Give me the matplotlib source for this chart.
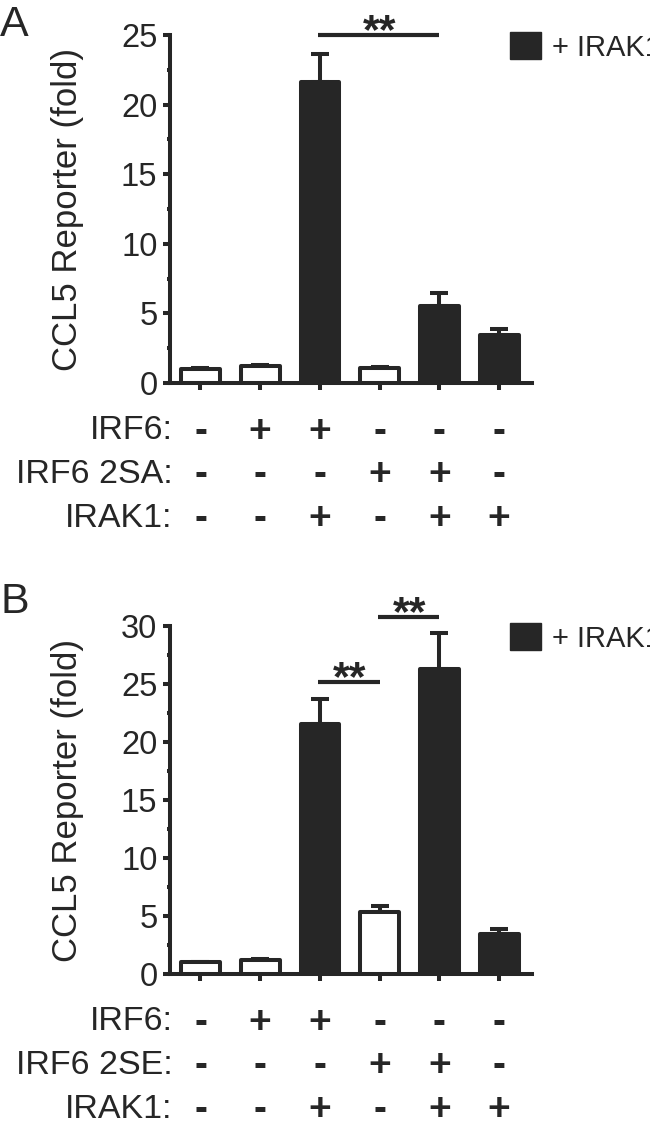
import matplotlib.pyplot as plt
from matplotlib.patches import Patch
from matplotlib.ticker import MultipleLocator
import matplotlib.transforms as mtransforms

plt.rcParams['font.family'] = ['Liberation Sans', 'DejaVu Sans']

DARK = '#262626'

# panel A data
valsA = [1.0, 1.25, 21.65, 1.1, 5.5, 3.45]
errsA = [0.05, 0.05, 2.0, 0.05, 1.0, 0.4]
rowNamesA = ['IRF6:', 'IRF6 2SA:', 'IRAK1:']
irf6 = ['-', '+', '+', '-', '-', '-']
irf6_mut = ['-', '-', '-', '+', '+', '-']
irak1 = ['-', '-', '+', '-', '+', '+']

# panel B data
valsB = [1.0, 1.25, 21.6, 5.35, 26.3, 3.45]
errsB = [0.05, 0.05, 2.1, 0.55, 3.1, 0.43]
rowNamesB = ['IRF6:', 'IRF6 2SE:', 'IRAK1:']

sigA = [(2, 4, 25.0)]
sigB = [(2, 3, 25.2), (3, 4, 30.8)]


def drawPanel(ax, vals, errs, rowNames, ymax, sigs):
    x = list(range(len(vals)))
    faces = [DARK if s == '+' else 'white' for s in irak1]
    bars = ax.bar(x, vals, width=0.65, color=faces, edgecolor=DARK,
                  linewidth=2.9, zorder=3)
    for b in bars:
        b.set_joinstyle('round')
    ax.errorbar(x, vals, yerr=[[0] * len(vals), errs], fmt='none',
                ecolor=DARK, elinewidth=2.9, capsize=6.8, capthick=2.9,
                zorder=2)

    ax.set_xlim(-0.51, 5.55)
    ax.set_ylim(0, ymax)
    ax.set_xticks(x)
    ax.set_xticklabels([])
    ax.yaxis.set_major_locator(MultipleLocator(5))
    ax.yaxis.set_minor_locator(MultipleLocator(2.5))
    for side in ['top', 'right']:
        ax.spines[side].set_visible(False)
    for side in ['left', 'bottom']:
        ax.spines[side].set_linewidth(2.9)
        ax.spines[side].set_color(DARK)
    ax.tick_params(axis='both', which='major', direction='out', length=5,
                   width=2.9, color=DARK, labelsize=23.5, labelcolor=DARK, pad=4)
    ax.tick_params(axis='y', which='minor', direction='out', length=2.2,
                   width=2.9, color=DARK)

    ax.set_ylabel('CCL5 Reporter (fold)', fontsize=25, color=DARK)
    ax.yaxis.set_label_coords(-0.238, 0.5)

    # significance bars
    for i0, i1, y in sigs:
        ax.plot([i0 - 0.03, i1], [y, y], color=DARK, lw=3,
                solid_capstyle='butt', clip_on=False)
        ax.annotate('**', xy=((i0 + i1) / 2, y), xytext=(0, -6),
                    textcoords='offset points', ha='center', va='baseline',
                    fontsize=31, fontweight='bold', color=DARK,
                    annotation_clip=False)

    # +/- table under the axis
    trans = mtransforms.blended_transform_factory(ax.transData, ax.transAxes)
    rowY = [-0.162, -0.286, -0.414]
    rows = [irf6, irf6_mut, irak1]
    for name, syms, yy in zip(rowNames, rows, rowY):
        ax.text(0.008, yy, name, transform=ax.transAxes, ha='right',
                va='baseline', fontsize=24.5, color=DARK)
        for xi, s in zip(x, syms):
            ax.text(xi, yy + 0.022, s, transform=trans, ha='center',
                    va='center', fontsize=28, fontweight='bold', color=DARK)

    ax.legend(handles=[Patch(facecolor=DARK, edgecolor=DARK)],
              labels=['+ IRAK1'], loc='center left',
              bbox_to_anchor=(0.939, 0.966), frameon=False, fontsize=21,
              handlelength=1.05, handleheight=1.05, handletextpad=0.38,
              borderpad=0, borderaxespad=0, labelcolor=DARK)


fig = plt.figure(figsize=(6.5, 11.21), dpi=100)
axA = fig.add_axes([0.2615, 0.6583, 0.557, 0.3104])
axB = fig.add_axes([0.2615, 0.1311, 0.557, 0.3104])

drawPanel(axA, valsA, errsA, rowNamesA, 25, sigA)
drawPanel(axB, valsB, errsB, rowNamesB, 30, sigB)

fig.text(0.0, 1 - 36 / 1121, 'A', fontsize=31, va='baseline', color=DARK)
fig.text(0.0, 1 - 613 / 1121, 'B', fontsize=31, va='baseline', color=DARK)

fig.savefig('out.png', dpi=100)
